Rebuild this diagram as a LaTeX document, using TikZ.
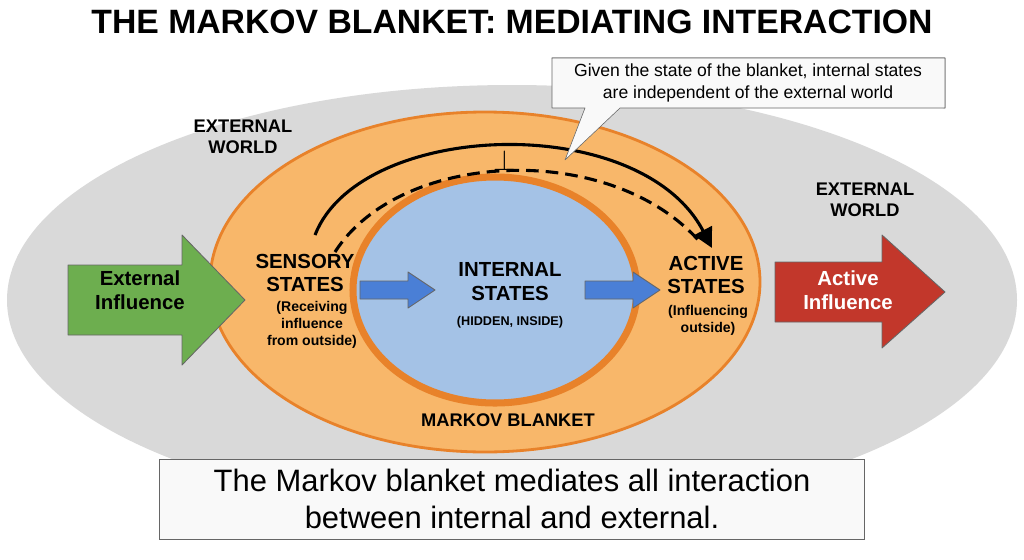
\documentclass[tikz,border=0pt]{standalone}
\usepackage{fontspec}
\setmainfont{Liberation Sans}
\usetikzlibrary{arrows.meta}
\definecolor{bggray}{HTML}{D9D9D9}
\definecolor{orfill}{HTML}{F8B76A}
\definecolor{orline}{HTML}{E8822A}
\definecolor{bluef}{HTML}{A4C2E6}
\definecolor{greenf}{HTML}{6DAE4F}
\definecolor{redf}{HTML}{C2372B}
\definecolor{bluear}{HTML}{4A7FD6}
\tikzset{lab/.style={font=\bfseries\fontsize{13}{15}\selectfont,align=center,text=black},
 big/.style={font=\bfseries\fontsize{14.5}{17}\selectfont,align=center},
 small/.style={font=\bfseries\fontsize{10}{12}\selectfont,align=center},
 arr/.style={draw=black!60,line width=0.6pt,line join=round}}
\begin{document}
\begin{tikzpicture}[x=0.025cm,y=-0.025cm]
\useasboundingbox (0,0) rectangle (1024,559);
\fill[white] (0,0) rectangle (1024,559);
\node[font=\bfseries\fontsize{24}{28}\selectfont] (title) at (512,22) {THE MARKOV BLANKET: MEDIATING INTERACTION};
\fill[bggray] (512,300) ellipse [x radius=505, y radius=215];
\draw[orline,fill=orfill,line width=2pt] (485,282) ellipse [x radius=275, y radius=170];
\draw[orline,fill=bluef,line width=5pt] (495,290) ellipse [x radius=142, y radius=113];
\node[lab] (ew1) at (243,137) {EXTERNAL\\WORLD};
\node[lab] (ew2) at (865,200) {EXTERNAL\\WORLD};
\draw[arr,fill=greenf] (68,265) -- (182,265) -- (182,235) -- (245,300) -- (182,365) -- (182,335) -- (68,335) -- cycle;
\node[big] (ein) at (140,290) {External\\Influence};
\draw[arr,fill=redf] (775,262) -- (882,262) -- (882,235) -- (945,292) -- (882,348) -- (882,322) -- (775,322) -- cycle;
\node[big,text=white] (ain) at (848,290) {Active\\Influence};
\node[big] (sens) at (305,273) {SENSORY\\STATES};
\node[small] (senss) at (312,325) {(Receiving\\influence\\from outside)};
\node[big] (int) at (510,282) {INTERNAL\\STATES};
\node[small,font=\bfseries\fontsize{9}{11}\selectfont] (ints) at (510,322) {(HIDDEN, INSIDE)};
\node[big] (act) at (706,275) {ACTIVE\\STATES};
\node[small] (acts) at (708,320) {(Influencing\\outside)};
\draw[arr,fill=bluear] (360,281) -- (408,281) -- (408,272) -- (435,290) -- (408,308) -- (408,299) -- (360,299) -- cycle;
\draw[arr,fill=bluear] (585,281) -- (633,281) -- (633,272) -- (660,290) -- (633,308) -- (633,299) -- (585,299) -- cycle;
\node[lab] (mb) at (508,420) {MARKOV BLANKET};
\coordinate (s1) at (315,235); \coordinate (e1) at (712,248);
\draw[line width=2.2pt,-{Triangle[length=14pt,width=14pt]}] (s1) .. controls (360,120) and (640,110) .. (e1);
\coordinate (s2) at (335,252); \coordinate (e2) at (700,242);
\draw[line width=2.2pt,dash pattern=on 9pt off 5pt] (s2) .. controls (400,150) and (610,140) .. (e2);
\node[font=\bfseries\fontsize{22}{24}\selectfont] (perp) at (505,160) {$\perp$};
\draw[draw=black!60,fill=white!95!gray,line join=round] (552,58) -- (945,108) -- (945,108) -- (945,58) -- cycle;
\draw[draw=black!60,fill=white!95!gray,line join=round] (552,58) -- (945,58) -- (945,108) -- (620,108) -- (565,160) -- (585,108) -- (552,108) -- cycle;
\node[align=center,font=\fontsize{12.5}{15}\selectfont] (call) at (748,83) {Given the state of the blanket, internal states\\are independent of the external world};
\node[draw=black!60,fill=white!95!gray,align=center,minimum width=705*0.025cm,minimum height=80*0.025cm,font=\fontsize{22}{26}\selectfont] (bot) at (512,499) {The Markov blanket mediates all interaction\\between internal and external.};
\end{tikzpicture}
\end{document}
